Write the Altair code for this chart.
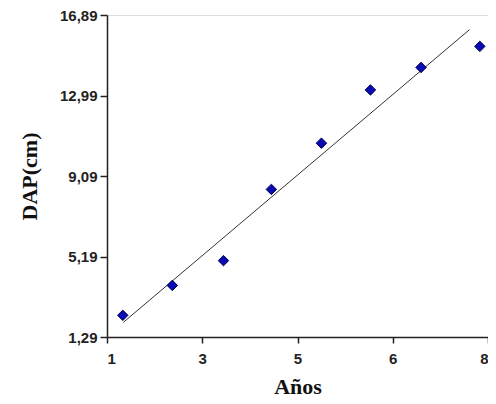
import altair as alt
import pandas as pd

# Data
years = [1.29, 2.20, 3.14, 4.02, 4.94, 5.84, 6.77, 7.85]
dap = [2.34, 3.79, 4.99, 8.44, 10.68, 13.26, 14.35, 15.37]

fit_x = [1.30, 7.66]
fit_y = [2.00, 16.18]

x_tick_values = [1, 2.75, 4.5, 6.25, 8]
x_tick_labels = ["1", "3", "5", "6", "8"]
y_tick_values = [1.29, 5.19, 9.09, 12.99, 16.89]
y_tick_labels = ["1,29", "5,19", "9,09", "12,99", "16,89"]


def label_expr(values, labels):
    expr = "''"
    for v, l in reversed(list(zip(values, labels))):
        expr = f"abs(datum.value - {v}) < 0.001 ? '{l}' : ({expr})"
    return expr


pts = pd.DataFrame({"x": years, "y": dap})
fit = pd.DataFrame({"x": fit_x, "y": fit_y})

xscale = alt.Scale(domain=[1, 8], nice=False, zero=False)
yscale = alt.Scale(domain=[1.29, 16.89], nice=False, zero=False)

xaxis = alt.Axis(
    title="Años", values=x_tick_values, labelExpr=label_expr(x_tick_values, x_tick_labels),
    grid=False, tickSize=6, labelPadding=8, titlePadding=10,
    labelFont="Liberation Sans", labelFontSize=15, labelFontWeight="bold", labelColor="#222",
    titleFont="Liberation Serif", titleFontSize=22, titleFontWeight="bold", titleColor="#111",
    domainColor="#222", tickColor="#222", domainWidth=1.5, tickWidth=1.5,
)
yaxis = alt.Axis(
    title="DAP(cm)", values=y_tick_values, labelExpr=label_expr(y_tick_values, y_tick_labels),
    grid=False, tickSize=7, labelPadding=3, titlePadding=18,
    labelFont="Liberation Sans", labelFontSize=15, labelFontWeight="bold", labelColor="#222",
    titleFont="Liberation Serif", titleFontSize=22, titleFontWeight="bold", titleColor="#111",
    domainColor="#222", tickColor="#222", domainWidth=1.5, tickWidth=1.5,
)

points = alt.Chart(pts).mark_point(
    shape="diamond", filled=True, size=110, fill="#0a0ab4", stroke="#000050", strokeWidth=1, opacity=1
).encode(
    x=alt.X("x:Q", scale=xscale, axis=xaxis),
    y=alt.Y("y:Q", scale=yscale, axis=yaxis),
)

line = alt.Chart(fit).mark_line(color="#333", strokeWidth=1).encode(
    x=alt.X("x:Q", scale=xscale),
    y=alt.Y("y:Q", scale=yscale),
)

chart = (line + points).properties(
    width=381, height=322,
    autosize=alt.AutoSizeParams(type="none"),
    padding={"left": 99, "top": 7, "right": 0, "bottom": 60},
).configure_view(stroke=None).configure(background="white")

chart.save("out.html", embed_options={"renderer": "svg", "actions": False})
